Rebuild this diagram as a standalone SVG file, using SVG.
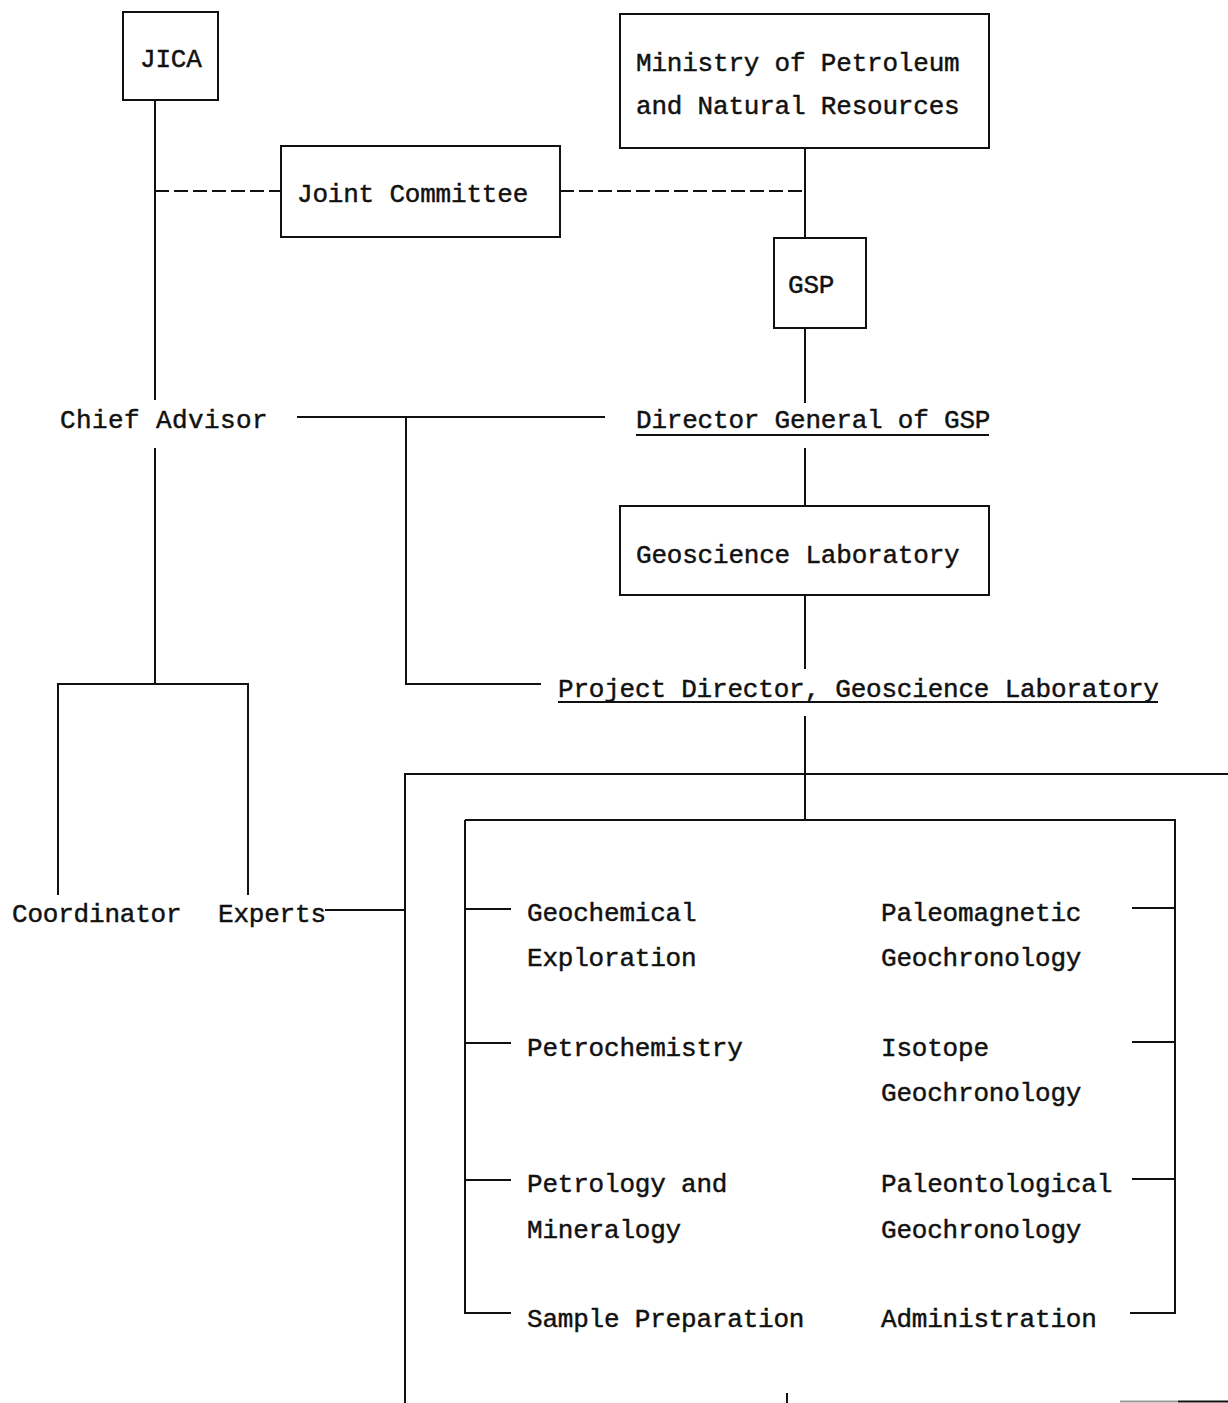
<svg xmlns="http://www.w3.org/2000/svg" width="1228" height="1403" viewBox="0 0 1228 1403">
<style>
.t{font-family:"Liberation Mono","DejaVu Sans Mono",monospace;font-size:26px;letter-spacing:-0.2px;fill:#111;stroke:#111;stroke-width:0.45px}
.b{fill:none;stroke:#111;stroke-width:2}
.l{fill:none;stroke:#111;stroke-width:2}
.d{fill:none;stroke:#111;stroke-width:2;stroke-dasharray:14 5}
</style>
<rect width="1228" height="1403" fill="#fff"/>
<g id="connectors">
<path class="l" d="M155 100V400M155 448V684M58 895V684H248V895"/>
<path class="d" d="M155 191H281M560 191H805"/>
<path class="l" d="M805 148V238M805 328V403M805 448V506M805 595V669M805 716V820"/>
<path class="l" d="M297 417H605M406 417V684H541"/>
<path class="l" d="M325 910H405M405 1403V774H1228"/>
<path class="l" d="M465 820H1175V1313H1130M465 820V1313H511"/>
<path class="l" d="M465 909H511M465 1043H511M465 1180H511"/>
<path class="l" d="M1132 908H1175M1132 1042H1175M1132 1179H1175"/>
<path class="l" d="M787 1393V1403"/>
<path fill="none" stroke="#999" stroke-width="2" d="M1120 1401.5H1178"/>
<path class="l" d="M1178 1401.5H1228"/>
</g>
<g id="jica"><rect class="b" x="123" y="12" width="95" height="88"/><text class="t" x="140" y="67">JICA</text></g>
<g id="joint-committee"><rect class="b" x="281" y="146" width="279" height="91"/><text class="t" x="297" y="202">Joint Committee</text></g>
<g id="ministry"><rect class="b" x="620" y="14" width="369" height="134"/><text class="t" x="636" y="71">Ministry of Petroleum</text><text class="t" x="636" y="114">and Natural Resources</text></g>
<g id="gsp"><rect class="b" x="774" y="238" width="92" height="90"/><text class="t" x="788" y="293">GSP</text></g>
<g id="chief-advisor"><text class="t" x="60" y="428" style="letter-spacing:0.4px">Chief Advisor</text></g>
<g id="director-general"><text class="t" x="636" y="428">Director General of GSP</text><path class="l" d="M636 435H989"/></g>
<g id="geoscience-lab"><rect class="b" x="620" y="506" width="369" height="89"/><text class="t" x="636" y="563">Geoscience Laboratory</text></g>
<g id="project-director"><text class="t" x="558" y="697">Project Director, Geoscience Laboratory</text><path class="l" d="M558 702H1158"/></g>
<g id="coordinator"><text class="t" x="12" y="922">Coordinator</text></g>
<g id="experts"><text class="t" x="218" y="922">Experts</text></g>
<g id="geochemical"><text class="t" x="527" y="921">Geochemical</text><text class="t" x="527" y="966">Exploration</text></g>
<g id="petrochemistry"><text class="t" x="527" y="1056">Petrochemistry</text></g>
<g id="petrology"><text class="t" x="527" y="1192">Petrology and</text><text class="t" x="527" y="1238">Mineralogy</text></g>
<g id="sample-prep"><text class="t" x="527" y="1327">Sample Preparation</text></g>
<g id="paleomagnetic"><text class="t" x="881" y="921">Paleomagnetic</text><text class="t" x="881" y="966">Geochronology</text></g>
<g id="isotope"><text class="t" x="881" y="1056">Isotope</text><text class="t" x="881" y="1101">Geochronology</text></g>
<g id="paleontological"><text class="t" x="881" y="1192">Paleontological</text><text class="t" x="881" y="1238">Geochronology</text></g>
<g id="administration"><text class="t" x="881" y="1327">Administration</text></g>
</svg>
